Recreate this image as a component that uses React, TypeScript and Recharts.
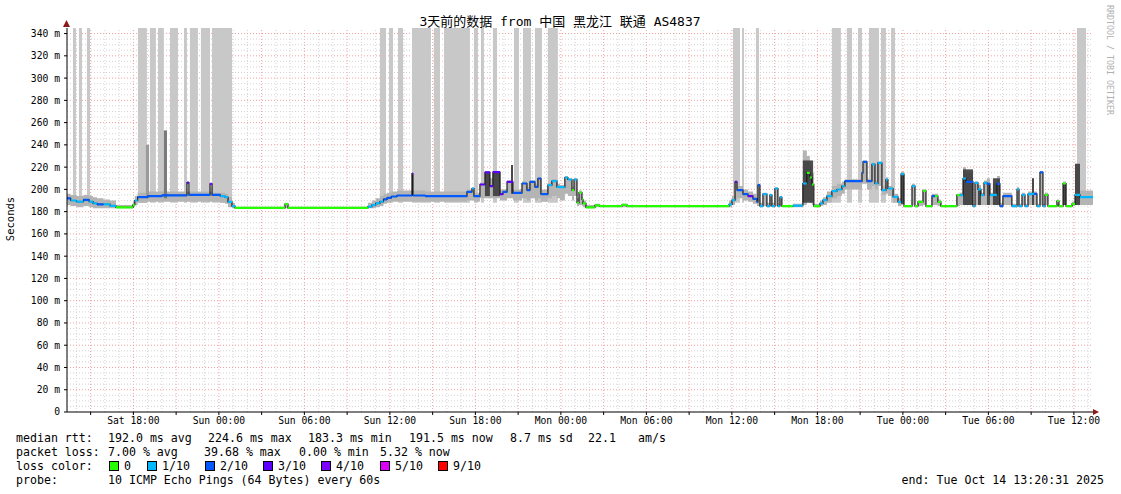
import React from 'react';
import { ComposedChart, Line, Area, XAxis, YAxis, ReferenceArea, ReferenceLine } from 'recharts';

// time axis: hours since Sat 00:00 (Oct 11 2025)
const START_HOUR = 13.342; // Sat 13:20:31
const END_HOUR = 85.342; // Tue 13:20:31

const timeTickHours = [18, 24, 30, 36, 42, 48, 54, 60, 66, 72, 78, 84];
const timeTickLabels = ['Sat 18:00', 'Sun 00:00', 'Sun 06:00', 'Sun 12:00', 'Sun 18:00', 'Mon 00:00', 'Mon 06:00', 'Mon 12:00', 'Mon 18:00', 'Tue 00:00', 'Tue 06:00', 'Tue 12:00'];
const rttTicks = [0, 20, 40, 60, 80, 100, 120, 140, 160, 180, 200, 220, 240, 260, 280, 300, 320, 340];

const lossLevels = [0, 1, 2, 3, 4, 5, 9];
const lossColors = ['#26ff00', '#00b8ff', '#0059ff', '#5e00ff', '#7e00ff', '#dd00ff', '#ff0000'];
const lossLabels = ['0', '1/10', '2/10', '3/10', '4/10', '5/10', '9/10'];

// [start hour, median ms, loss (tenths), smoke low ms, smoke high ms]
const satSegments = [
  [13.34, 192, 2, 186, 196], [13.6, 190, 1, 185, 195], [14.0, 189, 1, 184, 194], [14.5, 190.5, 2, 185, 195],
  [14.9, 189, 1, 184, 194], [15.17, 187.5, 1, 183, 193], [15.45, 186.5, 2, 183, 192], [15.9, 186.5, 1, 183, 191],
  [16.36, 185.2, 1, 183, 190], [16.78, 183.8, 0, 183, 186], [17.97, 186, 0, 184, 189], [18.1, 190, 1, 186, 194],
  [18.3, 193, 2, 188, 197], [19.0, 194, 2, 189, 198], [20.0, 194.6, 2, 189, 198], [21.76, 206, 3, 189, 198],
  [21.9, 195, 2, 189, 198], [23.38, 205, 4, 189, 198], [23.52, 195, 2, 189, 197], [24.1, 194, 1, 188, 197],
  [24.43, 193, 1, 187, 196], [24.64, 188.8, 1, 184, 193], [24.92, 185, 1, 183, 188],
];
const sunSegments = [
  [25.13, 183.4, 0, 183, 184.5], [28.64, 186.7, 0, 183, 188], [28.85, 183.4, 0, 183, 184.5], [34.46, 184.5, 1, 183, 188],
  [34.74, 185.8, 1, 183, 190], [35.0, 187.5, 1, 184, 192], [35.3, 189, 1, 185, 194], [35.55, 191, 2, 187, 196],
  [35.8, 192.4, 2, 188, 197], [36.1, 193.6, 2, 189, 198], [36.5, 194.5, 2, 189, 199], [37.55, 214.3, 4, 189, 199],
  [37.62, 194.5, 2, 189, 199], [38.5, 194, 2, 189, 198], [41.41, 197.8, 2, 190, 200], [41.76, 200.8, 1, 190, 202],
  [41.9, 193.9, 2, 189, 197], [42.32, 204.4, 3, 192, 206], [42.67, 215.2, 3, 192, 216], [43.02, 202.9, 3, 192, 210],
  [43.23, 215.5, 3, 192, 216], [43.73, 195.7, 3, 190, 200], [43.94, 197.8, 2, 190, 200], [44.22, 206.8, 3, 192, 208],
  [44.5, 206.8, 3, 192, 222], [44.64, 196.9, 2, 190, 200], [45.27, 205.3, 2, 192, 207], [45.62, 199.3, 2, 190, 202],
  [45.83, 206.8, 2, 192, 208], [46.18, 202.3, 2, 190, 205], [46.39, 209.8, 2, 192, 211], [46.6, 195.7, 2, 189, 200],
  [47.09, 203.8, 1, 192, 206], [47.37, 207.4, 1, 194, 209], [47.72, 202.3, 1, 192, 205], [47.93, 202, 1, 190, 204],
  [48.28, 210.7, 1, 196, 212], [48.49, 208.9, 1, 194, 210], [48.78, 199.3, 0, 190, 202], [48.92, 208.9, 1, 194, 210],
  [49.13, 188, 0, 185, 192], [49.27, 197.2, 0, 186, 199], [49.48, 191, 0, 185, 193], [49.55, 187.4, 0, 184, 190],
  [49.76, 183.8, 0, 183, 186], [50.39, 185.6, 0, 184, 187],
];
const monSegments = [
  [50.74, 185, 0, 184, 186], [52.29, 186, 0, 184, 187], [52.64, 185, 0, 184, 186], [59.8, 186.5, 1, 184, 190],
  [60.01, 190.3, 1, 186, 194], [60.22, 206.8, 3, 190, 208], [60.36, 199.3, 2, 192, 203], [60.78, 195.7, 2, 190, 200],
  [61.13, 193.9, 3, 189, 198], [61.48, 191.5, 2, 187, 196], [61.76, 188.8, 2, 185, 193], [61.83, 203.8, 2, 185, 205],
  [61.97, 185, 1, 184, 188], [62.18, 195.7, 1, 185, 197], [62.46, 185, 1, 184, 188], [62.67, 194.8, 1, 185, 196],
  [62.81, 185, 1, 184, 188], [63.02, 200.8, 1, 185, 202], [63.23, 185, 1, 184, 187], [63.37, 192.9, 1, 185, 194],
  [63.51, 185, 0, 184, 186], [64.28, 185.5, 1, 184, 187], [64.98, 205.3, 1, 186, 235], [65.26, 214.8, 0, 190, 230],
  [65.47, 210.7, 0, 188, 222], [65.61, 204.4, 0, 186, 215], [65.75, 185, 0, 184, 187], [66.18, 187.4, 1, 185, 190],
  [66.39, 190.3, 1, 186, 193], [66.67, 193.9, 1, 188, 198], [67.02, 198.4, 1, 192, 203], [67.37, 199.9, 1, 194, 205],
  [67.72, 202.9, 1, 196, 207], [67.93, 207.4, 2, 200, 209], [69.13, 214.8, 2, 205, 216], [69.2, 224.7, 2, 205, 226],
  [69.48, 207.4, 2, 200, 209], [69.83, 222.4, 1, 203, 224], [70.04, 205.3, 1, 200, 208], [70.25, 223.8, 1, 203, 225],
  [70.53, 199.3, 1, 195, 203], [70.81, 208.9, 1, 196, 211], [70.95, 200.8, 1, 194, 203], [71.31, 193.3, 1, 188, 196],
  [71.66, 188.8, 1, 185, 192], [71.87, 213.7, 1, 186, 216], [72.08, 185, 0, 184, 186], [72.64, 202.9, 1, 186, 205],
  [72.85, 185, 0, 184, 186], [73.06, 188.8, 0, 185, 190], [73.41, 198.7, 0, 186, 200], [73.62, 185, 0, 184, 186],
  [74.04, 193.9, 2, 186, 196], [74.25, 193.9, 0, 186, 196], [74.46, 188.8, 0, 185, 191], [74.67, 185, 0, 184, 186],
  [75.79, 194.8, 0, 185, 196],
];
const tueSegments = [
  [76.0, 194.8, 1, 186, 197], [76.22, 209.8, 1, 186, 220], [76.43, 206.8, 2, 186, 215], [76.92, 185, 1, 184, 187],
  [77.06, 205.9, 1, 186, 207], [77.27, 200, 1, 186, 204], [77.48, 194.8, 1, 186, 197], [77.69, 205.9, 1, 186, 208],
  [77.9, 205, 2, 186, 210], [78.11, 194.8, 1, 186, 197], [78.32, 195, 1, 186, 205], [78.6, 205, 2, 186, 212],
  [78.81, 185, 2, 184, 188], [79.02, 193.9, 2, 186, 197], [79.65, 185, 1, 184, 187], [80.01, 200, 1, 186, 202],
  [80.15, 185, 1, 184, 187], [80.36, 195, 1, 186, 197], [80.57, 185, 1, 184, 187], [80.78, 195.8, 1, 186, 198],
  [81.06, 196, 1, 186, 210], [81.2, 196, 2, 186, 198], [81.41, 185, 1, 184, 187], [81.62, 215.2, 2, 186, 216],
  [81.83, 185, 1, 184, 187], [81.97, 195, 0, 186, 197], [82.18, 185, 0, 184, 186], [82.81, 189.4, 0, 185, 191],
  [82.95, 185, 0, 184, 186], [83.24, 205.3, 0, 186, 207], [83.45, 185, 0, 184, 186], [83.87, 187, 0, 185, 189],
  [84.08, 195, 1, 186, 223], [84.43, 193, 1, 186, 199],
];

// full-height grey bands [start hour, end hour]
const lossBands = [
  [13.34, 13.48], [13.76, 13.97], [14.18, 14.39], [14.74, 14.96],
  [18.32, 18.95], [19.16, 19.58], [19.73, 20.14], [20.57, 21.13], [21.55, 21.76], [21.97, 22.53], [22.74, 23.38], [23.52, 24.92],
  [35.3, 35.73], [35.94, 36.22], [36.57, 36.92], [37.55, 38.88], [39.09, 39.52], [39.8, 41.62], [41.9, 42.18], [42.39, 42.6],
  [43.23, 43.52], [44.71, 45.06], [45.34, 45.9], [46.18, 46.67], [47.09, 47.79],
  [60.08, 60.57], [60.71, 60.85], [61.69, 61.9],
  [67.02, 67.65], [68.07, 68.43], [68.85, 69.13], [69.62, 70.32], [70.46, 70.81], [71.17, 71.45],
  [84.22, 84.85],
];
// darker smoke blocks [start, end, low ms, high ms]
const darkSmoke = [
  [42.67, 43.02, 194, 215], [43.23, 43.73, 194, 215], [44.5, 44.64, 196, 222],
  [64.98, 65.7, 188, 226], [71.87, 72.08, 187, 214],
  [76.22, 76.92, 186, 218], [77.27, 77.48, 186, 200], [77.9, 78.11, 186, 205], [78.32, 78.81, 186, 210],
  [81.06, 81.2, 186, 210], [83.24, 83.45, 186, 205], [84.08, 84.43, 186, 223],
];
// medium grey smoke spikes [start, end, low ms, high ms]
const midSmoke = [
  [18.88, 19.1, 192, 240], [20.14, 20.36, 192, 253],
];

const FONT = '"DejaVu Sans Mono", "Noto Sans CJK SC", monospace';

function buildRows() {
  const segs = [...satSegments, ...sunSegments, ...monSegments, ...tueSegments];
  const rows: any[] = [];
  const blank = () => {
    const o: any = {};
    lossLevels.forEach((l) => (o['c' + l] = null));
    return o;
  };
  segs.forEach((s, i) => {
    const [t, med, loss, lo, hi] = s;
    const tEnd = i + 1 < segs.length ? segs[i + 1][0] : END_HOUR;
    const a: any = { ...blank(), t, med, smoke: [lo, hi] };
    a['c' + loss] = med;
    const b: any = { ...blank(), t: tEnd, med, smoke: [lo, hi] };
    b['c' + loss] = med;
    const c: any = { ...blank(), t: tEnd, med, smoke: [lo, hi] };
    rows.push(a, b, c);
  });
  return rows;
}

const rows = buildRows();

const hourLines: number[] = [];
for (let h = 14; h <= 85; h++) hourLines.push(h);
const msLines: number[] = [];
for (let v = 5; v <= 340; v += 5) msLines.push(v);

const fmtTime = (v: number) => {
  const i = timeTickHours.indexOf(v);
  return i >= 0 ? timeTickLabels[i] : '';
};

export default function App() {
  return (
    <div style={{ position: 'absolute', left: 0, top: 0, width: 1121, height: 494, background: '#fff' }}>
      <ComposedChart width={1121} height={494} data={rows} margin={{ top: 28, right: 28, left: 0, bottom: 62 }}>
        {hourLines.map((h) => (
          <ReferenceLine key={'vx' + h} x={h} stroke={h % 3 === 0 ? '#f2a0a0' : '#d4d4d4'} strokeDasharray="1 2" zIndex={-50} />
        ))}
        {msLines.map((v) => (
          <ReferenceLine key={'hy' + v} y={v} stroke={v % 20 === 0 ? '#f2a0a0' : '#d4d4d4'} strokeDasharray="1 2" zIndex={-50} />
        ))}
        {lossBands.map(([a, b], i) => (
          <ReferenceArea key={'lb' + i} x1={a} x2={b} y1={188} y2={345} fill="#c8c8c8" fillOpacity={1} stroke="none" zIndex={50} />
        ))}
        <XAxis
          type="number"
          dataKey="t"
          domain={[START_HOUR, END_HOUR]}
          allowDataOverflow
          ticks={[15, ...timeTickHours.flatMap((h) => [h, h + 3]).filter((h) => h <= 85)]}
          tickFormatter={fmtTime}
          interval={0}
          tickSize={3}
          tickMargin={2}
          height={20}
          stroke="#000"
          tick={{ fontFamily: FONT, fontSize: 9.7, fill: '#000' }}
        />
        <YAxis
          type="number"
          domain={[0, 345]}
          allowDataOverflow
          ticks={rttTicks}
          interval={0}
          tickFormatter={(v: number) => (v === 0 ? '0' : `${v} m`)}
          width={67}
          tickSize={3}
          tickMargin={4}
          stroke="#000"
          tick={{ fontFamily: FONT, fontSize: 9.7, fill: '#000' }}
        />
        <Area dataKey="smoke" type="linear" stroke="none" fill="#b4b4b4" fillOpacity={1} isAnimationActive={false} dot={false} activeDot={false} zIndex={100} />
        {midSmoke.map(([a, b, lo, hi], i) => (
          <ReferenceArea key={'ms' + i} x1={a} x2={b} y1={lo} y2={hi} fill={i === 0 ? '#9a9a9a' : '#7a7a7a'} fillOpacity={1} stroke="none" zIndex={150} />
        ))}
        {darkSmoke.map(([a, b, lo, hi], i) => (
          <ReferenceArea key={'ds' + i} x1={a} x2={b} y1={lo} y2={hi} fill="#3c3c3c" fillOpacity={0.9} stroke="none" zIndex={150} />
        ))}
        <Line dataKey="med" type="linear" stroke="#1a1a1a" strokeWidth={1.2} dot={false} activeDot={false} isAnimationActive={false} zIndex={380} />
        {lossLevels.map((l, i) => (
          <Line
            key={'c' + l}
            dataKey={'c' + l}
            type="linear"
            stroke={lossColors[i]}
            strokeWidth={2.2}
            dot={false}
            activeDot={false}
            connectNulls={false}
            isAnimationActive={false}
            zIndex={400}
          />
        ))}
      </ComposedChart>
      <svg width={1121} height={494} style={{ position: 'absolute', left: 0, top: 0, pointerEvents: 'none' }}>
        <polygon points="63,27 70,27 66.5,20" fill="#8b1a1a" />
        <polygon points="1093,409 1093,415 1099,412" fill="#8b1a1a" />
        <text x={560} y={21} textAnchor="middle" dominantBaseline="central" fontFamily={FONT} fontSize={13} fill="#000">
          3天前的数据 from 中国 黑龙江 联通 AS4837
        </text>
        <text x={10} y={219} transform="rotate(-90 10 219)" textAnchor="middle" dominantBaseline="central" fontFamily={FONT} fontSize={10.5} fill="#000">
          Seconds
        </text>
        <text x={1110} y={5} transform="rotate(90 1110 5)" dominantBaseline="central" fontFamily={FONT} fontSize={8.3} fill="#b0b0b0">
          RRDTOOL / TOBI OETIKER
        </text>
        <g fontFamily={FONT} fontSize={11.6} fill="#000" dominantBaseline="central" style={{ whiteSpace: 'pre' }}>
          <text x={16} y={438}>median rtt:</text>
          <text x={108} y={438}>192.0 ms avg</text>
          <text x={208} y={438}>224.6 ms max</text>
          <text x={308} y={438}>183.3 ms min</text>
          <text x={409} y={438}>191.5 ms now</text>
          <text x={510} y={438}>8.7 ms sd</text>
          <text x={588} y={438}>22.1</text>
          <text x={638} y={438}>am/s</text>
          <text x={16} y={452}>packet loss:</text>
          <text x={108} y={452}>7.00 % avg</text>
          <text x={204} y={452}>39.68 % max</text>
          <text x={299} y={452}>0.00 % min</text>
          <text x={380} y={452}>5.32 % now</text>
          <text x={16} y={466}>loss color:</text>
          {lossLabels.map((lab, i) => {
            const bx = [109, 147, 205, 263, 321, 380, 438][i];
            return (
              <g key={lab}>
                <rect x={bx + 0.5} y={461.5} width={9} height={9} fill={lossColors[i]} stroke="#000" strokeWidth={1} />
                <text x={bx + 15} y={466}>{lab}</text>
              </g>
            );
          })}
          <text x={16} y={480}>probe:</text>
          <text x={108} y={480}>10 ICMP Echo Pings (64 Bytes) every 60s</text>
          <text x={1104} y={480} textAnchor="end">end: Tue Oct 14 13:20:31 2025</text>
        </g>
      </svg>
    </div>
  );
}
